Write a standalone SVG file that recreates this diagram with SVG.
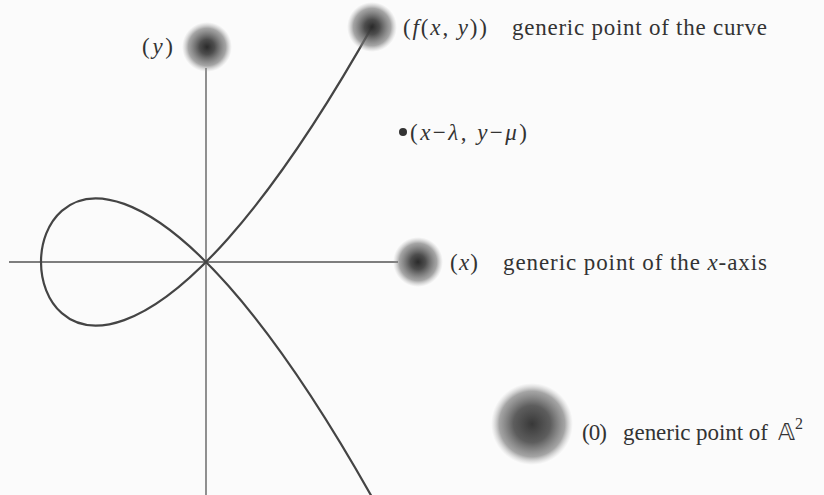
<svg xmlns="http://www.w3.org/2000/svg" width="824" height="495" viewBox="0 0 824 495">
<style>
.t{font-family:"Liberation Serif","DejaVu Serif",serif;font-size:23px;fill:#333}
.i{font-style:italic}
.ax{stroke:#555;stroke-width:1.3;fill:none}
.cv{stroke:#444;stroke-width:2.2;fill:none}
</style>
<defs>
<radialGradient id="blob">
<stop offset="0" stop-color="#2a2a2a"/>
<stop offset="0.3" stop-color="#444" stop-opacity="0.95"/>
<stop offset="0.75" stop-color="#777" stop-opacity="0.65"/>
<stop offset="1" stop-color="#aaa" stop-opacity="0"/>
</radialGradient>
<radialGradient id="bigblob">
<stop offset="0" stop-color="#383838"/>
<stop offset="0.45" stop-color="#555" stop-opacity="0.95"/>
<stop offset="0.8" stop-color="#888" stop-opacity="0.75"/>
<stop offset="1" stop-color="#bbb" stop-opacity="0"/>
</radialGradient>
</defs>
<rect width="824" height="495" fill="#fbfbfb"/>
<g id="connectors">
<line class="ax" x1="9" y1="262" x2="398" y2="262"/>
<line class="ax" x1="206" y1="68" x2="206" y2="495"/>
<path class="cv" d="M373.7,500.1 C-69.9,-288.5 -69.9,812.5 373.7,23.9"/>
</g>
<g id="point-y">
<circle cx="207" cy="47" r="25" fill="url(#blob)"/>
<text class="t" x="142" y="54" textLength="31">(<tspan class="i">y</tspan>)</text>
</g>
<g id="point-curve">
<circle cx="372" cy="27" r="25" fill="url(#blob)"/>
<text class="t" x="403" y="35" textLength="84">(<tspan class="i">f</tspan>(<tspan class="i">x</tspan>, <tspan class="i">y</tspan>))</text>
<text class="t" x="512" y="35" textLength="255">generic point of the curve</text>
</g>
<g id="point-closed">
<circle cx="403" cy="132" r="4" fill="#333"/>
<text class="t" x="410" y="140" textLength="117">(<tspan class="i">x</tspan>−<tspan class="i">λ</tspan>, <tspan class="i">y</tspan>−<tspan class="i">μ</tspan>)</text>
</g>
<g id="point-x">
<circle cx="418" cy="262" r="25" fill="url(#blob)"/>
<text class="t" x="450" y="270" textLength="28">(<tspan class="i">x</tspan>)</text>
<text class="t" x="503" y="270" textLength="264">generic point of the <tspan class="i">x</tspan>-axis</text>
</g>
<g id="point-0">
<circle cx="532" cy="424" r="41" fill="url(#bigblob)"/>
<text class="t" x="582" y="440" textLength="25">(0)</text>
<text class="t" x="623" y="440" textLength="145">generic point of</text>
<text class="t" x="778" y="440"><tspan font-family="DejaVu Sans, sans-serif">𝔸</tspan><tspan dy="-11" font-size="16">2</tspan></text>
</g>
</svg>
